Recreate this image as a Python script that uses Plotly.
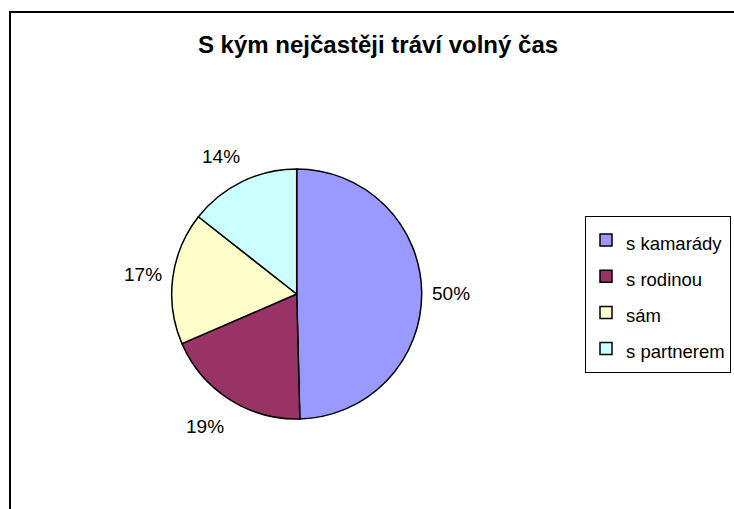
import math
import plotly.graph_objects as go

# ---- data ----
categories = ["s kamarády", "s rodinou", "sám", "s partnerem"]
shares = [49.6, 18.9, 17.1, 14.4]
colors = ["#9999FF", "#993366", "#FFFFCC", "#CCFFFF"]
title_text = "S kým nejčastěji tráví volný čas"

W, H = 734, 509
cx, cy, R = 296.7, 294.0, 125.0  # pie centre / radius in px


def px2paper(x, y):
    return x / W, (H - y) / H


dom_x = [(cx - R) / W, (cx + R) / W]
dom_y = [(H - cy - R) / H, (H - cy + R) / H]

legend_names = [f"<span style='font-size:18.5px'>{c}</span>" for c in categories]

fig = go.Figure()
fig.add_trace(go.Pie(
    labels=legend_names,
    values=shares,
    sort=False,
    direction="clockwise",
    rotation=0,
    marker=dict(colors=colors, line=dict(color="#000000", width=1.5)),
    textinfo="none",
    hoverinfo="skip",
    domain=dict(x=dom_x, y=dom_y),
    showlegend=True,
))

# percentage labels outside the slices, computed from the data
total = sum(shares)
cum = 0.0
annotations = []
tw, th = 39.0, 26.0
gx, gy = 10.0, 15.0
for v in shares:
    mid = (cum + v / 2) / total * 2 * math.pi
    cum += v
    ux, uy = math.sin(mid), -math.cos(mid)
    sx = math.copysign(min(1.0, 2 * abs(ux)), ux)
    sy = math.copysign(min(1.0, 2 * abs(uy)), uy)
    px = cx + (R + gx) * ux + sx * tw / 2
    py = cy + (R + gy) * uy + sy * th / 2
    ax, ay = px2paper(px, py + 1.5)
    annotations.append(dict(
        x=ax, y=ay, xref="paper", yref="paper",
        text=f"{round(v / total * 100)}%", showarrow=False,
        xanchor="center", yanchor="middle",
        font=dict(family="Liberation Sans, Arial", size=19, color="#000000"),
    ))

tx, ty = px2paper(378, 45)
lx, ly = px2paper(585, 216)
bx0, by1 = px2paper(10, 12)

fig.update_layout(
    width=W, height=H,
    margin=dict(l=0, r=0, t=0, b=0, autoexpand=False),
    paper_bgcolor="#FFFFFF",
    plot_bgcolor="#FFFFFF",
    font=dict(family="Liberation Sans, Arial", color="#000000"),
    title=dict(
        text=title_text, x=tx, y=ty,
        xref="paper", yref="paper", xanchor="center", yanchor="middle",
        font=dict(family="Liberation Sans, Arial", size=24, color="#000000", weight=700),
    ),
    legend=dict(
        x=lx, y=ly, xanchor="left", yanchor="top",
        bordercolor="#000000", borderwidth=1, bgcolor="#FFFFFF",
        font=dict(family="Liberation Sans, Arial", size=25.5, color="#000000"),
        traceorder="normal",
    ),
    annotations=annotations,
    shapes=[dict(
        type="rect", xref="paper", yref="paper",
        x0=bx0, x1=1.05, y0=-0.05, y1=by1,
        line=dict(color="#000000", width=2), fillcolor="rgba(0,0,0,0)",
    )],
)

fig.write_html(
    "out.html",
    config={"displayModeBar": False},
    post_script="document.body.style.margin='0';document.body.style.overflow='hidden';",
)
